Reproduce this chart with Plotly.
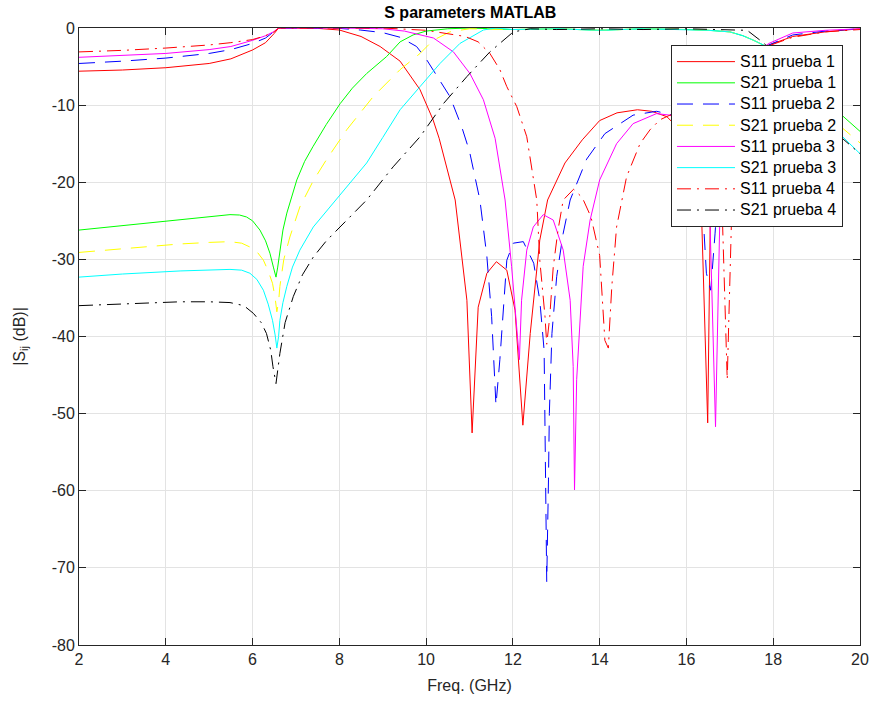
import plotly.graph_objects as go

# ---------------- data ----------------
f_s11_1 = [2, 3, 4, 5, 5.5, 6, 6.3, 6.4, 6.5, 6.6, 7, 7.5, 8.0, 8.5, 8.94, 9.4, 9.86, 10.16, 10.3,
           10.67, 10.94, 11.06, 11.2, 11.4, 11.62, 11.86, 12.05, 12.23, 12.4, 12.62, 12.8, 13.2,
           13.6, 14.0, 14.4, 14.87, 15.2, 15.55, 15.9, 16.2, 16.35, 16.49, 16.55, 16.7, 17.0,
           17.4, 17.9, 18.45, 19.2, 20]
s11_1 = [-5.6, -5.45, -5.15, -4.6, -4.0, -2.85, -1.9, -1.35, -0.7, 0, 0, -0.05, -0.26, -1.1, -2.4,
         -4.3, -8.0, -11.9, -14.3, -22.3, -35.3, -52.5, -36.2, -31.8, -30.3, -31.4, -36.6, -51.5,
         -39.6, -27.5, -22.3, -17.5, -14.5, -12.0, -11.0, -10.6, -10.8, -11.5, -13.5, -17.5, -24.5,
         -51.2, -24.5, -12.0, -6.0, -3.8, -2.2, -1.1, -0.5, -0.1]

f_s11_2 = [2, 3, 4, 5, 5.5, 6, 6.3, 6.48, 6.6, 7, 8, 8.48, 9.0, 9.4, 9.78, 10.0, 10.24, 10.55, 10.82,
           11.0, 11.24, 11.4, 11.51, 11.61, 11.70, 11.86, 12.01, 12.24, 12.48, 12.62, 12.72, 12.78,
           12.82, 12.84, 12.90, 13.01, 13.16, 13.32, 13.7, 14.12, 14.77, 15.31, 15.7, 16.0, 16.2,
           16.39, 16.46, 16.56, 16.66, 16.8, 17.1, 17.5, 17.9, 18.45, 19.2, 20]
s11_2 = [-4.6, -4.3, -3.9, -3.3, -2.8, -2.0, -1.3, -0.56, 0, 0, -0.05, -0.26, -0.6, -1.2, -2.4, -4.0,
         -6.1, -8.9, -12.8, -16.0, -22.3, -29.6, -37.4, -48.9, -43.0, -30.1, -27.9, -27.7, -30.5,
         -35.3, -41.8, -71.8, -58.6, -50.0, -39.6, -32.2, -26.6, -22.3, -17.0, -13.7, -11.3, -10.8,
         -11.3, -12.8, -16.0, -24.9, -31.8, -34.0, -26.6, -15.0, -7.0, -3.8, -2.2, -0.9, -0.4, -0.1]

f_s11_3 = [2, 3, 4, 5, 5.5, 6, 6.3, 6.48, 6.6, 7, 8, 9, 9.5, 10.17, 10.63, 11.01, 11.32, 11.59, 11.82,
           11.97, 12.09, 12.15, 12.20, 12.32, 12.47, 12.70, 12.93, 13.16, 13.32, 13.39, 13.42, 13.47,
           13.62, 13.78, 14.0, 14.39, 14.77, 15.31, 15.62, 15.9, 16.2, 16.4, 16.54, 16.67, 16.77,
           16.9, 17.2, 17.5, 17.9, 18.45, 19.2, 20]
s11_3 = [-3.8, -3.55, -3.3, -2.8, -2.4, -1.6, -1.0, -0.5, 0, 0, 0, -0.1, -0.4, -1.3, -3.1, -5.9, -9.3,
         -14.3, -22.3, -30.9, -39.6, -43.0, -35.3, -28.8, -25.8, -24.2, -24.9, -28.8, -35.3, -43.9,
         -59.9, -45.6, -30.9, -24.9, -19.7, -15.0, -12.4, -11.1, -11.3, -12.5, -15.0, -19.0, -24.5,
         -51.7, -24.5, -14.0, -6.5, -3.6, -2.0, -0.65, -0.3, -0.1]

f_s11_4 = [2, 3, 4, 5, 5.5, 6, 6.3, 6.5, 6.6, 7, 8, 9, 10, 10.5, 10.9, 11.2, 11.47, 11.70, 11.86,
           12.09, 12.32, 12.55, 12.62, 12.74, 12.78, 12.85, 12.93, 13.04, 13.16, 13.4, 13.6, 13.8,
           14.0, 14.12, 14.2, 14.28, 14.39, 14.62, 14.93, 15.16, 15.39, 15.62, 15.9, 16.2, 16.5,
           16.7, 16.83, 16.94, 17.04, 17.2, 17.5, 17.9, 18.45, 19.2, 20]
s11_4 = [-3.1, -2.9, -2.6, -2.2, -1.9, -1.5, -1.0, -0.5, 0, 0, 0, 0, -0.3, -0.7, -1.1, -1.8, -3.3,
         -5.4, -7.6, -10.2, -14.1, -22.3, -30.1, -37.4, -41.0, -37.4, -31.0, -26.2, -22.3, -20.9,
         -22.0, -24.5, -29.5, -40.5, -41.5, -33.5, -25.8, -19.3, -15.0, -13.2, -11.9, -11.3, -11.2,
         -12.5, -16.0, -20.0, -24.9, -45.6, -24.5, -10.0, -4.5, -2.3, -1.2, -0.5, -0.2]

f_s21_1 = [2, 3, 4, 4.33, 5, 5.48, 5.7, 5.86, 6.0, 6.17, 6.3, 6.40, 6.48, 6.54, 6.58, 6.63, 6.7,
           6.79, 6.9, 7.02, 7.2, 7.39, 7.7, 8.02, 8.3, 8.63, 9.09, 9.40, 9.7, 10.0, 10.5, 11, 12, 13,
           14, 15, 16, 16.5, 17.0, 17.3, 17.55, 17.77, 18.0, 18.5, 19.0, 19.6, 20]
s21_1 = [-26.2, -25.6, -25.0, -24.8, -24.4, -24.2, -24.25, -24.5, -25.0, -26.2, -27.6, -29.2, -31.0,
         -32.3, -31.0, -28.8, -26.2, -24.0, -21.8, -19.7, -17.3, -15.4, -12.5, -9.8, -7.8, -5.9, -3.7,
         -1.8, -0.9, -0.4, -0.1, 0, -0.2, -0.1, -0.3, -0.1, -0.2, -0.3, -0.5, -1.0, -1.6, -2.2, -3.0,
         -5.0, -7.5, -11.4, -13.4]

f_s21_2 = [2, 3, 4.33, 5, 5.48, 5.75, 5.94, 6.1, 6.25, 6.36, 6.46, 6.52, 6.56, 6.6, 6.63, 6.72, 6.86,
           7.09, 7.4, 7.70, 8.17, 8.78, 9.40, 9.86, 10.16, 10.55, 11, 12, 13, 14, 15, 16, 16.5, 17.0,
           17.3, 17.55, 17.77, 18.0, 18.5, 19.0, 19.6, 20]
s21_2 = [-29.1, -28.6, -28.0, -27.8, -27.7, -27.9, -28.4, -29.0, -30.1, -31.5, -33.1, -35.0, -36.8,
         -35.5, -33.5, -30.0, -27.1, -23.2, -19.8, -17.1, -13.2, -8.9, -5.4, -3.3, -1.6, -0.5, -0.1,
         -0.2, -0.1, -0.3, -0.1, -0.2, -0.3, -0.5, -1.0, -1.6, -2.2, -3.1, -5.2, -7.8, -13.0, -14.9]

f_s21_3 = [2, 3, 4.33, 5, 5.48, 5.75, 5.94, 6.1, 6.25, 6.36, 6.46, 6.52, 6.56, 6.6, 6.63, 6.7, 6.79,
           6.92, 7.09, 7.4, 7.78, 8.2, 8.63, 9.0, 9.40, 9.86, 10.32, 10.78, 11.32, 11.6, 12, 13, 14,
           15, 16, 16.5, 17.0, 17.3, 17.55, 17.77, 18.0, 18.5, 19.0, 19.6, 20]
s21_3 = [-32.3, -31.9, -31.5, -31.4, -31.3, -31.4, -31.8, -32.6, -34.0, -35.8, -37.9, -39.8, -41.5,
         -40.0, -37.9, -35.6, -33.5, -31.0, -28.8, -25.8, -23.2, -20.3, -17.5, -14.2, -10.6, -7.6,
         -4.6, -2.0, -0.26, 0, -0.2, -0.1, -0.3, -0.1, -0.2, -0.3, -0.5, -1.0, -1.6, -2.2, -3.2,
         -5.5, -8.5, -14.1, -16.3]

f_s21_4 = [2, 3, 4.33, 5, 5.48, 5.8, 6.02, 6.2, 6.32, 6.42, 6.47, 6.54, 6.58, 6.63, 6.75, 6.94, 7.15,
           7.40, 7.7, 8.02, 8.63, 9.24, 9.86, 10.40, 10.94, 11.47, 12.01, 12.4, 13, 14, 15, 16, 17.0,
           17.4, 17.7, 17.85, 18.1, 18.6, 19.1, 19.55, 20]
s21_4 = [-36.0, -35.8, -35.5, -35.5, -35.6, -36.0, -37.0, -38.2, -39.6, -41.8, -43.9, -46.1, -44.5,
         -42.2, -38.2, -34.8, -32.0, -29.7, -27.6, -25.8, -22.3, -18.0, -14.1, -9.8, -6.3, -3.1,
         -0.5, -0.1, -0.2, -0.1, -0.2, -0.1, -0.2, -0.3, -1.6, -2.3, -3.2, -5.5, -8.8, -14.1, -16.3]

x_ticks = [2, 4, 6, 8, 10, 12, 14, 16, 18, 20]
y_ticks = [0, -10, -20, -30, -40, -50, -60, -70, -80]

series = [
    ("S11 prueba 1", f_s11_1, s11_1, "#ff0000", "solid"),
    ("S21 prueba 1", f_s21_1, s21_1, "#00ff00", "solid"),
    ("S11 prueba 2", f_s11_2, s11_2, "#0000ff", "16px,10px"),
    ("S21 prueba 2", f_s21_2, s21_2, "#ffff00", "16px,10px"),
    ("S11 prueba 3", f_s11_3, s11_3, "#ff00ff", "solid"),
    ("S21 prueba 3", f_s21_3, s21_3, "#00ffff", "solid"),
    ("S11 prueba 4", f_s11_4, s11_4, "#ff0000", "14px,6px,2px,6px"),
    ("S21 prueba 4", f_s21_4, s21_4, "#000000", "14px,6px,2px,6px"),
]

fig = go.Figure()
for name, fx, fy, col, dash in series:
    fig.add_trace(go.Scatter(x=fx, y=fy, mode="lines",
                             name='<span style="font-size:16px">' + name + '</span>',
                             line=dict(color=col, width=1, dash=dash)))

FONT = "Liberation Sans, Arial, sans-serif"
axis_common = dict(showline=True, linecolor="#262626", linewidth=1, mirror="ticks",
                   ticks="inside", ticklen=7, tickcolor="#262626", automargin=False,
                   showgrid=True, gridcolor="#e3e3e3", gridwidth=1, zeroline=False,
                   tickfont=dict(family=FONT, size=16, color="#262626"))

fig.update_layout(
    width=871, height=704, autosize=False,
    margin=dict(l=79, r=11, t=28, b=59),
    paper_bgcolor="white", plot_bgcolor="white",
    title=dict(text="<b>S parameters MATLAB</b>", x=0.54, xanchor="center",
               y=0.983, yanchor="middle",
               font=dict(family=FONT, size=16, color="black")),
    xaxis=dict(range=[2, 20], tickvals=x_ticks, ticktext=[str(v) for v in x_ticks],
               title=dict(text="Freq. (GHz)", font=dict(family=FONT, size=16, color="#262626"),
                          standoff=12),
               **axis_common),
    yaxis=dict(range=[-80, 0], tickvals=y_ticks, ticktext=[str(v) for v in y_ticks],
               title=dict(text="|S<sub>ij</sub> (dB)|",
                          font=dict(family=FONT, size=16, color="#262626"), standoff=22),
               **axis_common),
    legend=dict(x=0.758, y=0.9724, xanchor="left", yanchor="top",
                bgcolor="white", bordercolor="#262626", borderwidth=1,
                font=dict(family=FONT, size=14, color="black"),
                tracegroupgap=0, itemwidth=58),
    showlegend=True,
)

fig.write_html("out.html")
